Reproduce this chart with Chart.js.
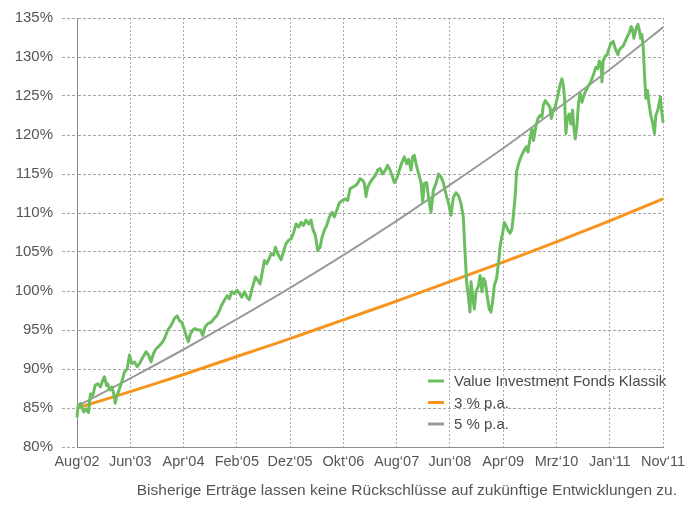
<!DOCTYPE html>
<html>
<head>
<meta charset="utf-8">
<script src="https://cdn.jsdelivr.net/npm/chart.js@4"></script>
<style>
  html, body { margin: 0; padding: 0; background: #ffffff; }
  #wrap { position: relative; width: 685px; height: 525px; overflow: hidden; }
  #c { position: absolute; left: 0; top: 0; }
  #footer { position: absolute; right: 8px; top: 481px; font-family: "Liberation Sans", Arial, sans-serif; font-size: 15.5px; line-height: 18px; color: #555; white-space: nowrap; }
</style>
</head>
<body>
<div id="wrap">
  <canvas id="c" width="685" height="525"></canvas>
  <div id="footer">Bisherige Erträge lassen keine Rückschlüsse auf zukünftige Entwicklungen zu.</div>
</div>
<script>
// ---- tick labels (x axis, one per label interval) ----
const tickLabels = ["Aug‘02","Jun‘03","Apr‘04","Feb‘05","Dez‘05","Okt‘06","Aug‘07","Jun‘08","Apr‘09","Mrz‘10","Jan‘11","Nov‘11"];
const labelPos = [0,1,2,3,4,5,6,7,8,9,10,11];

// ---- series names ----
const seriesNames = ["Value Investment Fonds Klassik", "3 % p.a.", "5 % p.a."];

// ---- y axis ----
const yMin = 80, yMax = 135, yStep = 5;

// ---- Value Investment Fonds Klassik (position in label intervals, value in %) ----
const fundPos = [0,0.019,0.066,0.090,0.128,0.173,0.216,0.253,0.296,0.341,0.390,0.441,0.484,0.516,0.553,0.578,0.610,0.653,0.690,0.717,
0.741,0.779,0.829,0.891,0.942,0.985,1.028,1.079,1.129,1.173,1.235,1.298,1.341,1.392,1.435,1.486,1.548,1.610,1.655,1.704,
1.767,1.829,1.880,1.923,1.966,2.017,2.068,2.092,2.129,2.173,2.218,2.266,2.317,2.360,2.405,2.454,2.518,2.580,2.630,2.674,
2.717,2.767,2.818,2.861,2.904,2.955,3.006,3.049,3.092,3.143,3.193,3.236,3.283,3.349,3.392,3.437,3.486,3.518,3.561,3.612,
3.644,3.687,3.724,3.767,3.831,3.874,3.925,3.974,4.019,4.062,4.113,4.161,4.206,4.250,4.300,4.349,4.394,4.424,4.475,4.518,
4.563,4.600,4.644,4.687,4.737,4.788,4.831,4.874,4.925,4.976,5.038,5.081,5.126,5.174,5.225,5.268,5.313,5.362,5.394,5.426,
5.456,5.501,5.550,5.600,5.644,5.689,5.737,5.788,5.831,5.876,5.914,5.957,6.000,6.051,6.101,6.144,6.188,6.225,6.270,6.300,
6.332,6.364,6.413,6.458,6.488,6.520,6.563,6.600,6.645,6.689,6.739,6.788,6.833,6.876,6.927,6.976,7.021,7.064,7.114,7.163,
7.208,7.251,7.280,7.313,7.351,7.377,7.396,7.426,7.458,7.490,7.538,7.565,7.602,7.632,7.664,7.707,7.739,7.771,7.801,7.833,
7.876,7.914,7.946,7.989,8.021,8.053,8.090,8.128,8.165,8.189,8.227,8.251,8.289,8.334,8.377,8.415,8.439,8.465,8.503,8.540,
8.570,8.615,8.653,8.690,8.728,8.752,8.790,8.833,8.878,8.902,8.940,8.977,9.021,9.066,9.103,9.128,9.152,9.178,9.203,9.240,
9.272,9.302,9.328,9.353,9.385,9.415,9.447,9.478,9.508,9.553,9.591,9.629,9.666,9.704,9.741,9.779,9.803,9.841,9.854,9.878,
9.916,9.953,9.991,10.028,10.066,10.090,10.116,10.154,10.178,10.216,10.253,10.291,10.328,10.366,10.403,10.428,10.454,10.478,10.503,10.529,
10.553,10.578,10.604,10.629,10.653,10.679,10.709,10.741,10.773,10.803,10.840,10.865,10.903,10.927,10.951,10.977,11.002,11.021];
const fundValues = [83.8,85.2,85.6,85.1,84.5,84.9,84.4,86.8,86.6,87.9,88.1,87.7,88.6,89.0,87.9,88.1,87.3,87.7,86.8,85.6,
86.4,87.1,88.1,89.6,90.0,91.8,90.7,90.9,90.3,90.7,91.5,92.2,91.8,90.9,92.0,92.6,93.0,93.5,94.1,95.0,
95.6,96.5,96.8,96.2,96.0,95.0,93.9,93.5,94.5,95.0,95.2,95.0,95.0,94.3,95.4,95.8,96.0,96.5,96.9,97.5,
98.2,98.8,99.4,99.0,99.9,99.7,100.1,99.7,99.2,99.9,99.2,98.9,100.2,101.8,101.4,100.9,102.7,103.9,103.5,104.2,
104.8,104.6,105.6,104.8,104.0,105.0,106.1,106.5,106.7,107.4,108.6,108.2,108.8,108.4,109.1,108.6,109.1,108.0,107.1,105.2,
105.6,106.9,107.8,108.4,109.5,110.1,109.5,110.3,111.3,111.6,111.8,111.6,113.1,113.3,113.5,113.8,114.4,114.2,113.8,112.1,
113.3,113.9,114.4,114.8,115.5,115.7,115.0,115.5,116.1,115.5,114.8,113.9,114.4,115.5,116.5,117.2,116.3,116.9,115.5,117.2,
117.4,116.3,115.0,113.9,111.4,113.8,113.9,111.9,110.1,112.9,113.8,115.0,114.6,113.9,112.4,111.2,109.7,112.0,112.6,112.2,
111.2,109.5,105.5,101.2,99.0,97.3,101.2,99.4,97.7,99.9,100.7,102.0,99.9,101.6,101.2,99.0,97.7,97.3,98.6,100.7,
101.6,103.7,105.9,107.4,108.8,108.4,107.8,107.4,108.0,109.5,112.3,115.3,116.3,117.2,117.8,118.3,118.5,117.8,119.5,120.8,
119.3,121.2,122.1,122.5,122.3,123.8,124.4,124.0,123.6,122.1,123.2,123.6,124.9,126.4,127.2,126.4,124.7,120.2,122.1,122.7,
121.4,123.2,120.8,119.5,121.2,124.2,125.3,124.2,124.9,125.7,126.2,126.6,127.2,127.9,128.7,128.5,129.5,129.0,126.8,129.5,
130.1,130.3,131.2,131.8,132.0,131.4,130.9,130.3,130.9,131.2,131.4,132.0,132.6,133.1,133.9,133.5,132.4,133.1,133.8,134.2,
133.5,132.4,132.9,131.2,127.7,124.7,125.7,123.8,122.5,121.6,120.2,122.5,123.2,124.0,124.9,122.9,121.6,120.6];

// ---- benchmark lines, read at each label position (%) ----
const growth3 = [85.0,87.1,89.3,91.6,93.9,96.3,98.7,101.2,103.7,106.3,109.0,111.8];
const growth5 = [85.2,88.8,92.5,96.4,100.4,104.6,109.0,113.6,118.3,123.3,128.4,133.8];

const FONT = '"Liberation Sans", Arial, sans-serif';
const colors = ['#6bbd60', '#f7941d', '#9a9a9a'];

const toPts = (xs, ys) => xs.map((x, i) => ({ x: x, y: ys[i] }));

const legendPlugin = {
  id: 'insideLegend',
  afterDraw(chart) {
    const ctx = chart.ctx;
    const x0 = 428, y0 = 381, dy = 21.5;
    ctx.save();
    ctx.font = '15px ' + FONT;
    ctx.textBaseline = 'middle';
    ctx.textAlign = 'left';
    chart.data.datasets.forEach((ds, i) => {
      const y = y0 + i * dy;
      ctx.strokeStyle = ds.borderColor;
      ctx.lineWidth = 3;
      ctx.beginPath();
      ctx.moveTo(x0, y);
      ctx.lineTo(x0 + 16, y);
      ctx.stroke();
      ctx.fillStyle = '#4a4a4a';
      ctx.fillText(ds.label, x0 + 26, y + 1);
    });
    ctx.restore();
  }
};

new Chart(document.getElementById('c'), {
  type: 'line',
  data: {
    datasets: [
      { label: seriesNames[0], data: toPts(fundPos, fundValues), borderColor: colors[0], borderWidth: 3, pointRadius: 0, tension: 0, order: 0, clip: false, borderJoinStyle: 'round' },
      { label: seriesNames[1], data: toPts(labelPos, growth3), borderColor: colors[1], borderWidth: 3, pointRadius: 0, tension: 0.2, order: 2 },
      { label: seriesNames[2], data: toPts(labelPos, growth5), borderColor: colors[2], borderWidth: 2, pointRadius: 0, tension: 0.2, order: 1 }
    ]
  },
  options: {
    responsive: false,
    animation: false,
    devicePixelRatio: 1,
    layout: { padding: { left: 0, top: 17, right: 22, bottom: 50 } },
    plugins: { legend: { display: false }, tooltip: { enabled: false } },
    scales: {
      x: {
        type: 'linear',
        min: 0, max: 11,
        afterBuildTicks: (s) => { s.ticks = labelPos.map(v => ({ value: v })); },
        afterFit: (s) => { s.height = 28; s.paddingLeft = 0; s.paddingRight = 0; },
        ticks: {
          autoSkip: false, maxRotation: 0, minRotation: 0, padding: 6,
          callback: (v) => tickLabels[v] !== undefined ? tickLabels[v] : '',
          font: { family: FONT, size: 14.5 }, color: '#555'
        },
        grid: { color: '#ababab', lineWidth: 1, drawTicks: false },
        border: { display: true, color: '#8c8c8c', width: 1, dash: [2, 2] }
      },
      y: {
        min: yMin, max: yMax,
        afterBuildTicks: (s) => { const t = []; for (let v = yMin; v <= yMax; v += yStep) t.push({ value: v }); s.ticks = t; },
        afterFit: (s) => { s.width = 77; },
        ticks: {
          padding: 9,
          callback: (v) => v + '%',
          font: { family: FONT, size: 15 }, color: '#555'
        },
        grid: { color: '#a6a6a6', lineWidth: 1, drawTicks: true, tickLength: 15, tickColor: '#a6a6a6', tickBorderDash: [3, 2] },
        border: { display: true, color: '#8c8c8c', width: 1, dash: [3, 2] }
      }
    }
  },
  plugins: [legendPlugin]
});
</script>
</body>
</html>
